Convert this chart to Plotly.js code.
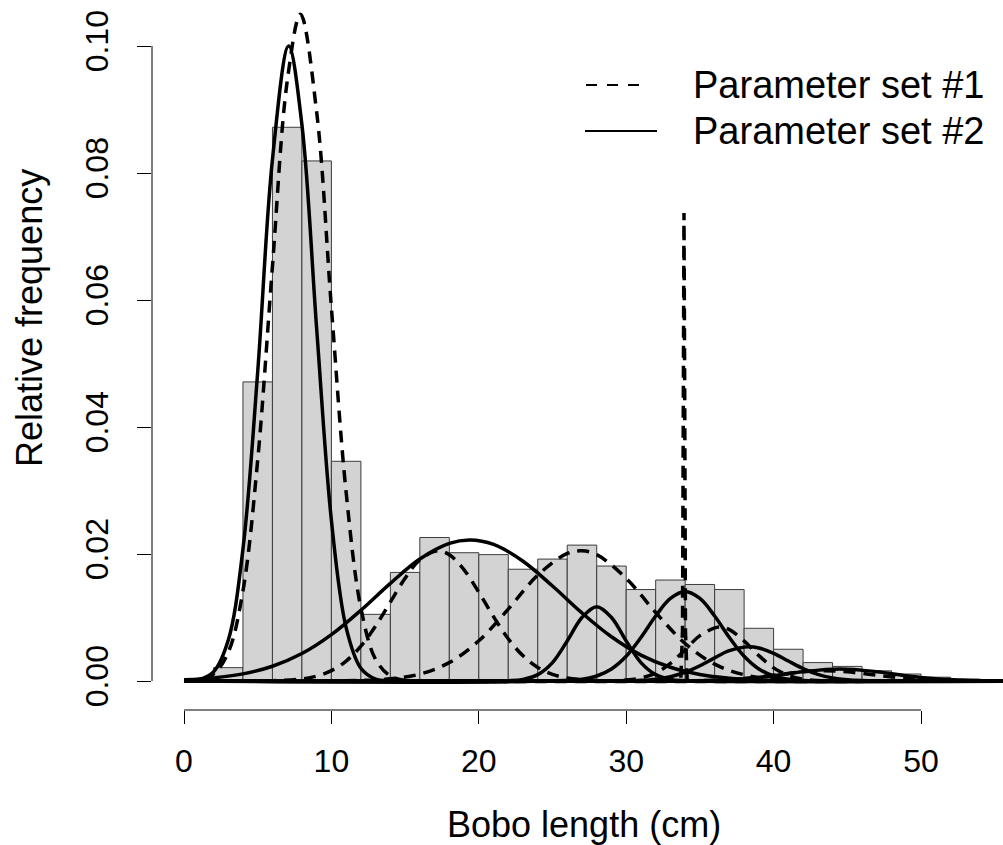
<!DOCTYPE html>
<html>
<head>
<meta charset="utf-8">
<script src="https://cdn.plot.ly/plotly-3.0.1.min.js"></script>
<style>html,body{margin:0;padding:0;background:#fff;}#chart{width:1003px;height:845px;}</style>
</head>
<body>
<div id="chart"></div>
<script>
// Histogram: bin starts (width 2 cm) and relative frequency (density)
const binStarts = [2,4,6,8,10,12,14,16,18,20,22,24,26,28,30,32,34,36,38,40,42,44,46,48,50,52,54];
const relFreq = [0.0021,0.0471,0.0872,0.0819,0.0346,0.0105,0.0171,0.0226,0.0202,0.0199,0.0176,0.0192,0.0214,0.0181,0.0144,0.0159,0.0152,0.0144,0.0083,0.0050,0.0029,0.0023,0.0016,0.0011,0.0006,0.0003,0.0002];

// Parameter set #1 (dashed) component curves
const set1c1x = [0,1,2,3,4,5,6,7,7.9,9,10,11,12,13,14,15,16,60];
const set1c1y = [0.00003,0.0002,0.0011,0.0045,0.0142,0.0348,0.0653,0.0944,0.105,0.0896,0.0588,0.0297,0.0115,0.0034,0.0008,0.0001,0,0];
const set1c2x = [0,6,8,9,10,11,12,13,14,15,16,17.2,18,19,20,21,22,23,24,25,26,28,30,60];
const set1c2y = [0,0.00004,0.00033,0.00077,0.00163,0.00314,0.00548,0.00866,0.01243,0.01618,0.0191,0.0205,0.01987,0.0175,0.01398,0.01013,0.00666,0.00396,0.00214,0.00105,0.00047,0.00007,0.00001,0];
const set1c3x = [0,12,14,16,18,20,22,24,26,27,28,30,32,34,36,38,40,42,44,60];
const set1c3y = [0,0.00009,0.00034,0.00109,0.0029,0.00633,0.01133,0.01666,0.02009,0.0205,0.0199,0.01617,0.01079,0.0059,0.00265,0.00098,0.0003,0.00007,0.00001,0];
const set1c4x = [0,33.7,33.82,33.87,33.92,33.97,34.02,34.14,60];
const set1c4y = [0,0,0.008,0.045,0.0737,0.045,0.008,0,0];
const set1c5x = [0,29,30,31,32,33,34,35,36.3,37,38,39,40,41,42,43,44,60];
const set1c5y = [0,0.00003,0.00014,0.00047,0.00126,0.00276,0.00492,0.00714,0.0085,0.00808,0.0063,0.004,0.00207,0.00087,0.0003,0.00008,0.00002,0];
const set1c6x = [0,34,36,38,40,42,43.5,45,47,49,51,53,55,60];
const set1c6y = [0,0.00003,0.00012,0.0004,0.00091,0.00144,0.0016,0.00144,0.00091,0.0004,0.00012,0.00003,0,0];

// Parameter set #2 (solid) component curves
const set2c1x = [0,1,2,3,4,5,6,7.1,8,9,10,11,12,13,14,15,60];
const set2c1y = [0.00003,0.00023,0.00143,0.0064,0.0208,0.0487,0.0821,0.1,0.0876,0.0555,0.0253,0.0084,0.002,0.0003,0.00004,0,0];
const set2c2x = [0,2,4,6,8,10,12,14,16,18,19.4,21,23,25,27,29,31,33,35,37,39,42,45,60];
const set2c2y = [0.00019,0.00049,0.00112,0.00232,0.00432,0.0073,0.01114,0.01538,0.0192,0.02166,0.0222,0.0215,0.01886,0.01496,0.01072,0.00696,0.00408,0.00216,0.00103,0.00045,0.00018,0.00004,0.00001,0];
const set2c3x = [0,22,23,24,25,26,27,28,29,30,31,32,33,34,60];
const set2c3y = [0,0.00005,0.00025,0.001,0.0029,0.0063,0.01,0.0117,0.01,0.0063,0.0029,0.001,0.00025,0.00005,0];
const set2c4x = [0,27,28,29,30,31,32,33,34,35,36,37,38,39,40,41,42,43,60];
const set2c4y = [0,0.00028,0.00079,0.0019,0.0039,0.00686,0.01024,0.013,0.0141,0.013,0.01024,0.00686,0.0039,0.0019,0.00079,0.00028,0.00008,0.00002,0];
const set2c5x = [0,30,31,32,33,34,35,36,37,38.3,39,40,41,42,43,44,45,46,48,60];
const set2c5y = [0,0.00003,0.0001,0.00029,0.00068,0.00138,0.00241,0.00365,0.00477,0.0054,0.0052,0.00436,0.00315,0.00196,0.00105,0.00049,0.00019,0.00007,0,0];
const set2c6x = [0,34,36,38,40,42,44.5,47,49,51,53,55,60];
const set2c6y = [0,0.00002,0.0001,0.00034,0.00083,0.00147,0.0019,0.00147,0.00083,0.00034,0.0001,0.00002,0];

const xTicks = [0,10,20,30,40,50];
const yTicks = [0,0.02,0.04,0.06,0.08,0.10];
const yTickText = ['0.00','0.02','0.04','0.06','0.08','0.10'];
const legendLabels = ['Parameter set #1','Parameter set #2'];
const xTitle = 'Bobo length (cm)';
const yTitle = 'Relative frequency';

const FONT = 'Liberation Sans, Arial, Helvetica, sans-serif';
const W = 1003, H = 845, ML = 152, MB = 135;
const px2x = p => (p - ML) / (W - ML);
const py2y = p => (H - MB - p) / (H - MB);

const traces = [];
traces.push({
  type: 'bar', x: binStarts, y: relFreq, width: 2, offset: 0,
  marker: {color: '#d3d3d3', line: {color: '#3c3c3c', width: 1}},
  hoverinfo: 'skip', showlegend: false
});

const dashed = [[set1c1x,set1c1y],[set1c2x,set1c2y],[set1c3x,set1c3y],[set1c4x,set1c4y],[set1c5x,set1c5y],[set1c6x,set1c6y]];
const solid = [[set2c1x,set2c1y],[set2c2x,set2c2y],[set2c3x,set2c3y],[set2c4x,set2c4y],[set2c5x,set2c5y],[set2c6x,set2c6y]];

dashed.forEach((c, i) => {
  traces.push({
    type: 'scatter', mode: 'lines', x: c[0], y: c[1], showlegend: false, hoverinfo: 'skip',
    line: {color: '#000', width: 3.5, dash: '12px,8px', shape: (i === 3 ? 'linear' : 'spline'), smoothing: 1}
  });
});
solid.forEach(c => {
  traces.push({
    type: 'scatter', mode: 'lines', x: c[0], y: c[1], showlegend: false, hoverinfo: 'skip',
    line: {color: '#000', width: 3.5, shape: 'spline', smoothing: 1}
  });
});

const layout = {
  width: W, height: H,
  margin: {l: ML, r: 0, t: 0, b: MB, pad: 0},
  paper_bgcolor: '#fff', plot_bgcolor: '#fff',
  showlegend: false,
  font: {family: FONT, size: 32, color: '#000'},
  xaxis: {
    range: [(152 - 184) / 14.74, (1003 - 184) / 14.74],
    tickvals: xTicks, ticktext: xTicks.map(String),
    ticks: 'outside', ticklen: 13, tickwidth: 1, tickcolor: '#000',
    showline: false, showgrid: false, zeroline: false,
    ticklabelstandoff: 10,
    tickfont: {family: FONT, size: 32, color: '#000'}
  },
  yaxis: {
    range: [(681 - 710) / 6350, 681 / 6350],
    tickvals: yTicks, ticktext: yTickText,
    ticks: 'outside', ticklen: 14, tickwidth: 1, tickcolor: '#000',
    tickangle: -90,
    showline: false, showgrid: false, zeroline: false,
    ticklabelstandoff: 16,
    tickfont: {family: FONT, size: 32, color: '#000'}
  },
  shapes: [
    {type: 'line', xref: 'x', yref: 'paper', x0: 0, x1: 50, y0: 0, y1: 0, line: {color: '#000', width: 1}},
    {type: 'line', xref: 'paper', yref: 'y', x0: 0, x1: 0, y0: 0, y1: 0.10, line: {color: '#000', width: 1}},
    {type: 'line', xref: 'paper', yref: 'paper', x0: px2x(586), x1: px2x(646), y0: py2y(85), y1: py2y(85), line: {color: '#000', width: 2, dash: '11px,10px'}},
    {type: 'line', xref: 'paper', yref: 'paper', x0: px2x(585), x1: px2x(657), y0: py2y(131), y1: py2y(131), line: {color: '#000', width: 2}}
  ],
  annotations: [
    {xref: 'paper', yref: 'paper', x: px2x(691), y: py2y(85), text: legendLabels[0], showarrow: false, xanchor: 'left', yanchor: 'middle', font: {family: FONT, size: 38, color: '#000'}},
    {xref: 'paper', yref: 'paper', x: px2x(691), y: py2y(131), text: legendLabels[1], showarrow: false, xanchor: 'left', yanchor: 'middle', font: {family: FONT, size: 38, color: '#000'}},
    {xref: 'paper', yref: 'paper', x: px2x(584), y: py2y(824), text: xTitle, showarrow: false, xanchor: 'center', yanchor: 'middle', font: {family: FONT, size: 36, color: '#000'}},
    {xref: 'paper', yref: 'paper', x: px2x(30), y: py2y(318), text: yTitle, showarrow: false, textangle: -90, xanchor: 'center', yanchor: 'middle', font: {family: FONT, size: 36, color: '#000'}}
  ]
};

Plotly.newPlot('chart', traces, layout, {staticPlot: true, displayModeBar: false});
</script>
</body>
</html>
